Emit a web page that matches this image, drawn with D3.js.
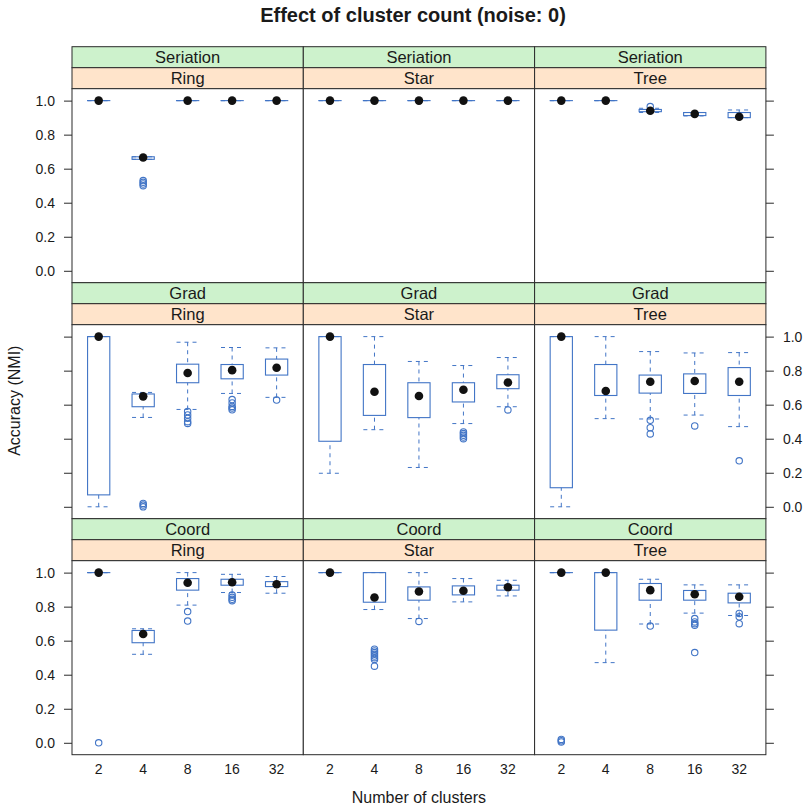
<!DOCTYPE html>
<html lang="en">
<head>
    <meta charset="UTF-8">
    <title>Effect of cluster count (noise: 0)</title>
    <script src="https://d3js.org/d3.v7.min.js" charset="utf-8"></script>
    <style>
        body, html {
            margin: 0;
            padding: 0;
            background: #ffffff;
            overflow: hidden;
        }
        text {
            font-family: "Liberation Sans", Arial, sans-serif;
            fill: #1a1a1a;
        }
    </style>
</head>
<body>
    <svg id="chart"></svg>

    <script>
        // categories
        const clusters = ["2", "4", "8", "16", "32"];
        const methods = ["Seriation", "Grad", "Coord"];      // rows, top to bottom
        const topologies = ["Ring", "Star", "Tree"];          // columns
        const yTicks = [0, 0.2, 0.4, 0.6, 0.8, 1.0];

        // box stats per cluster count: [lower whisker, Q1, median, Q3, upper whisker]
        const serRingBox = [[1, 1, 1, 1, 1], [0.655, 0.655, 0.666, 0.67, 0.67], [1, 1, 1, 1, 1], [1, 1, 1, 1, 1], [1, 1, 1, 1, 1]];
        const serRingOut = [[], [0.50, 0.51, 0.52, 0.53], [], [], []];
        const serStarBox = [[1, 1, 1, 1, 1], [1, 1, 1, 1, 1], [1, 1, 1, 1, 1], [1, 1, 1, 1, 1], [1, 1, 1, 1, 1]];
        const serStarOut = [[], [], [], [], []];
        const serTreeBox = [[1, 1, 1, 1, 1], [1, 1, 1, 1, 1], [0.93, 0.935, 0.94, 0.948, 0.955], [0.91, 0.912, 0.922, 0.93, 0.93], [0.90, 0.90, 0.905, 0.93, 0.945]];
        const serTreeOut = [[], [], [0.965], [], []];

        const gradRingBox = [[0, 0.07, 1, 1, 1], [0.525, 0.588, 0.649, 0.663, 0.672], [0.572, 0.729, 0.786, 0.838, 0.967], [0.666, 0.752, 0.803, 0.836, 0.936], [0.643, 0.774, 0.817, 0.868, 0.934]];
        const gradRingOut = [[], [0.0, 0.01, 0.02], [0.49, 0.50, 0.52, 0.54, 0.56], [0.57, 0.58, 0.59, 0.61, 0.63], [0.627]];
        const gradStarBox = [[0.197, 0.385, 1, 1, 1], [0.453, 0.537, 0.676, 0.836, 1], [0.231, 0.524, 0.651, 0.729, 0.854], [0.489, 0.616, 0.688, 0.729, 0.83], [0.588, 0.694, 0.73, 0.776, 0.877]];
        const gradStarOut = [[], [], [], [0.40, 0.41, 0.42, 0.43, 0.44], [0.569]];
        const gradTreeBox = [[0, 0.112, 1, 1, 1], [0.518, 0.654, 0.68, 0.836, 1], [0.516, 0.668, 0.735, 0.774, 0.912], [0.539, 0.666, 0.739, 0.781, 0.904], [0.471, 0.654, 0.735, 0.818, 0.906]];
        const gradTreeOut = [[], [], [0.428, 0.465, 0.508], [0.475], [0.27]];

        const coordRingBox = [[1, 1, 1, 1, 1], [0.52, 0.588, 0.639, 0.66, 0.67], [0.809, 0.897, 0.94, 0.965, 1], [0.883, 0.926, 0.943, 0.961, 0.99], [0.879, 0.918, 0.932, 0.947, 0.977]];
        const coordRingOut = [[0.0], [], [0.715, 0.771], [0.835, 0.843, 0.855, 0.868], []];
        const coordStarBox = [[1, 1, 1, 1, 1], [0.783, 0.826, 0.854, 1, 1], [0.73, 0.838, 0.889, 0.916, 1], [0.828, 0.869, 0.893, 0.922, 0.965], [0.863, 0.897, 0.914, 0.926, 0.955]];
        const coordStarOut = [[], [0.45, 0.49, 0.50, 0.51, 0.52, 0.53, 0.54, 0.55], [0.713], [], []];
        const coordTreeBox = [[1, 1, 1, 1, 1], [0.471, 0.662, 1, 1, 1], [0.698, 0.838, 0.897, 0.936, 0.961], [0.762, 0.838, 0.873, 0.895, 0.928], [0.748, 0.822, 0.858, 0.879, 0.928]];
        const coordTreeOut = [[0.005, 0.012, 0.02], [], [0.686], [0.53, 0.69, 0.70, 0.71, 0.73], [0.70, 0.74, 0.76]];

        const panelBoxes = [
            [serRingBox, serStarBox, serTreeBox],
            [gradRingBox, gradStarBox, gradTreeBox],
            [coordRingBox, coordStarBox, coordTreeBox]
        ];
        const panelOutliers = [
            [serRingOut, serStarOut, serTreeOut],
            [gradRingOut, gradStarOut, gradTreeOut],
            [coordRingOut, coordStarOut, coordTreeOut]
        ];

        // layout
        const width = 807, height = 808;
        const leftX = 72, topY = 46.7;
        const panelW = 231.3, panelH = 194, stripH = 21;
        const rowH = 2 * stripH + panelH;
        const boxColor = "#4275c6";
        const stripTop = "#cdf2cc";
        const stripBottom = "#ffe4cb";
        const frameColor = "#2a2a2a";

        const svg = d3.select("#chart")
            .attr("width", width)
            .attr("height", height);

        const x = d3.scalePoint()
            .domain(clusters)
            .range([0, panelW])
            .padding(0.6);
        const boxW = x.step() * 0.5;

        const y = d3.scaleLinear()
            .domain([-0.07, 1.07])
            .range([panelH, 0]);

        // title + axis titles
        svg.append("text")
            .attr("x", 413)
            .attr("y", 21.5)
            .attr("text-anchor", "middle")
            .style("font-size", "20px")
            .style("font-weight", "bold")
            .text("Effect of cluster count (noise: 0)");

        svg.append("text")
            .attr("transform", `translate(19.5,${topY + 3 * rowH / 2}) rotate(-90)`)
            .attr("text-anchor", "middle")
            .style("font-size", "16px")
            .text("Accuracy (NMI)");

        svg.append("text")
            .attr("x", leftX + 1.5 * panelW)
            .attr("y", 802.5)
            .attr("text-anchor", "middle")
            .style("font-size", "16px")
            .text("Number of clusters");

        methods.forEach((method, r) => {
            topologies.forEach((topo, c) => {
                const g = svg.append("g")
                    .attr("transform", `translate(${leftX + c * panelW},${topY + r * rowH})`);

                // strips
                g.append("rect")
                    .attr("width", panelW).attr("height", stripH)
                    .attr("fill", stripTop).attr("stroke", frameColor);
                g.append("text")
                    .attr("x", panelW / 2).attr("y", 16.6)
                    .attr("text-anchor", "middle")
                    .style("font-size", "16.5px")
                    .text(method);
                g.append("rect")
                    .attr("y", stripH)
                    .attr("width", panelW).attr("height", stripH)
                    .attr("fill", stripBottom).attr("stroke", frameColor);
                g.append("text")
                    .attr("x", panelW / 2).attr("y", stripH + 16.6)
                    .attr("text-anchor", "middle")
                    .style("font-size", "16.5px")
                    .text(topo);

                const p = g.append("g")
                    .attr("transform", `translate(0,${2 * stripH})`);

                p.append("rect")
                    .attr("width", panelW).attr("height", panelH)
                    .attr("fill", "#fff").attr("stroke", frameColor);

                const boxes = panelBoxes[r][c];
                const outs = panelOutliers[r][c];

                const grp = p.selectAll("g.bw")
                    .data(clusters.map((k, i) => ({ k, s: boxes[i], o: outs[i] })))
                    .join("g")
                    .attr("class", "bw")
                    .attr("transform", d => `translate(${x(d.k)},0)`);

                // whiskers
                grp.append("line")
                    .attr("y1", d => y(d.s[4])).attr("y2", d => y(d.s[3]))
                    .attr("stroke", boxColor).attr("stroke-dasharray", "4,4");
                grp.append("line")
                    .attr("y1", d => y(d.s[0])).attr("y2", d => y(d.s[1]))
                    .attr("stroke", boxColor).attr("stroke-dasharray", "4,4");
                // caps
                grp.selectAll("line.cap")
                    .data(d => [d.s[0], d.s[4]])
                    .join("line")
                    .attr("class", "cap")
                    .attr("x1", -boxW / 2).attr("x2", boxW / 2)
                    .attr("y1", v => y(v)).attr("y2", v => y(v))
                    .attr("stroke", boxColor).attr("stroke-dasharray", "4,4");
                // box
                grp.append("rect")
                    .attr("x", -boxW / 2)
                    .attr("y", d => y(d.s[3]))
                    .attr("width", boxW)
                    .attr("height", d => Math.max(0.01, y(d.s[1]) - y(d.s[3])))
                    .attr("fill", "none")
                    .attr("stroke", boxColor)
                    .attr("stroke-width", 1.1);
                // outliers
                grp.selectAll("circle.out")
                    .data(d => d.o)
                    .join("circle")
                    .attr("class", "out")
                    .attr("cy", v => y(v))
                    .attr("r", 3.2)
                    .attr("fill", "none")
                    .attr("stroke", boxColor)
                    .attr("stroke-width", 1.1);
                // median dot
                grp.append("circle")
                    .attr("cy", d => y(d.s[2]))
                    .attr("r", 4.3)
                    .attr("fill", "#111");

                // y axes (alternating: labels left on rows 0/2, right on row 1)
                const labelLeft = r !== 1;
                if (c === 0) {
                    const ax = d3.axisLeft(y).tickValues(yTicks).tickSize(8).tickPadding(9)
                        .tickFormat(labelLeft ? d3.format(".1f") : "");
                    const a = p.append("g").call(ax);
                    a.select(".domain").remove();
                    a.selectAll("line").attr("stroke", frameColor);
                    a.selectAll("text").style("font-size", "14px").attr("fill", "#1a1a1a");
                }
                if (c === 2) {
                    const ax = d3.axisRight(y).tickValues(yTicks).tickSize(8).tickPadding(9)
                        .tickFormat(labelLeft ? "" : d3.format(".1f"));
                    const a = p.append("g").attr("transform", `translate(${panelW},0)`).call(ax);
                    a.select(".domain").remove();
                    a.selectAll("line").attr("stroke", frameColor);
                    a.selectAll("text").style("font-size", "14px").attr("fill", "#1a1a1a");
                }

                // x tick labels on bottom row
                if (r === 2) {
                    p.selectAll("text.xt")
                        .data(clusters)
                        .join("text")
                        .attr("class", "xt")
                        .attr("x", d => x(d))
                        .attr("y", panelH + 19.5)
                        .attr("text-anchor", "middle")
                        .style("font-size", "14px")
                        .text(d => d);
                }
            });
        });
    </script>
</body>
</html>
